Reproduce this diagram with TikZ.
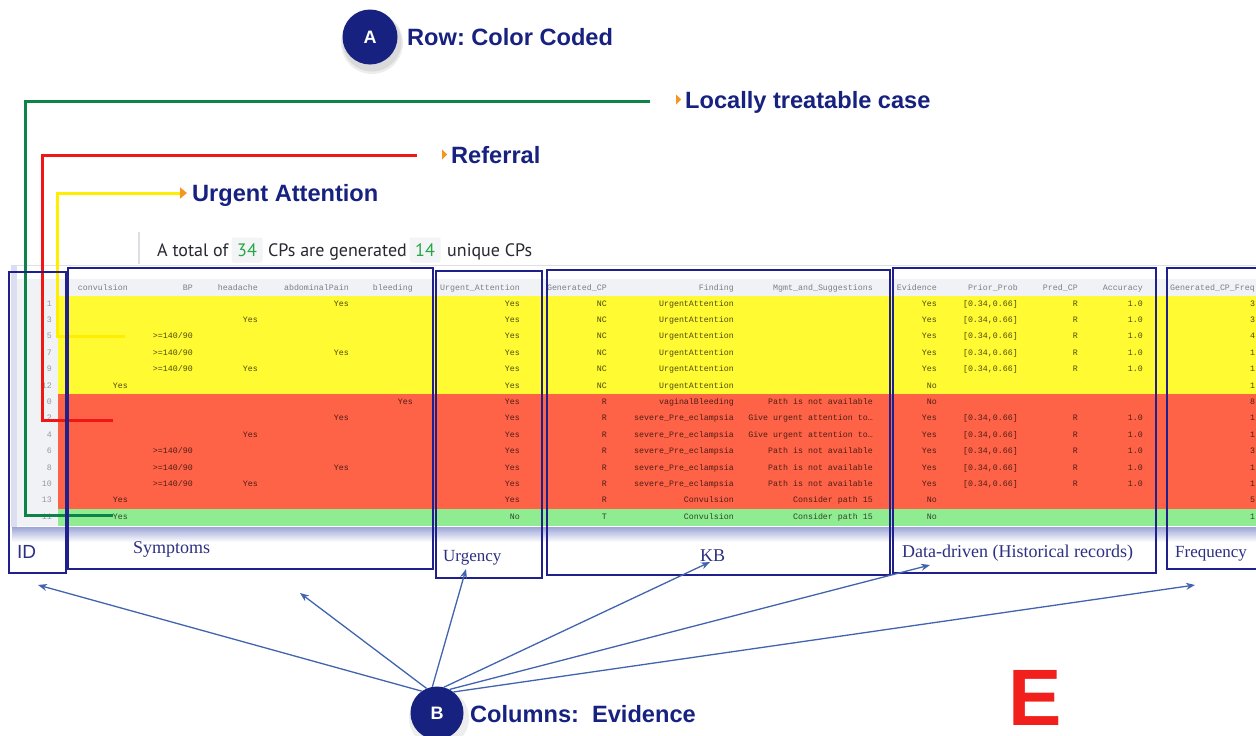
\documentclass[tikz,border=0pt]{standalone}
\usepackage{fontspec}
\setmainfont{Liberation Sans}
\newfontfamily\labelserif{Liberation Serif}
\newfontfamily\tabmono{Liberation Mono}
\newfontfamily\summaryfont{PT Sans}
\usetikzlibrary{arrows.meta,calc}
\frenchspacing

\definecolor{navy}{RGB}{22,33,128}
\definecolor{boxblue}{RGB}{32,32,140}
\definecolor{labelblue}{RGB}{45,48,130}
\definecolor{linegreen}{RGB}{12,132,72}
\definecolor{linered}{RGB}{240,22,22}
\definecolor{lineyellow}{RGB}{255,238,0}
\definecolor{tipor}{RGB}{245,150,35}
\definecolor{rowyellow}{RGB}{255,250,50}
\definecolor{rowred}{RGB}{255,99,71}
\definecolor{rowgreen}{RGB}{144,236,144}
\definecolor{idgrey}{RGB}{241,242,246}
\definecolor{headgrey}{RGB}{241,242,246}
\definecolor{headtext}{RGB}{125,125,135}
\definecolor{idtext}{RGB}{150,150,160}
\definecolor{arrowblue}{RGB}{66,100,175}
\definecolor{numgreen}{RGB}{40,165,70}
\definecolor{numbox}{RGB}{242,244,246}
\definecolor{sumtext}{RGB}{40,40,50}
\definecolor{sepgrey}{RGB}{222,223,228}
\definecolor{shadowblue}{RGB}{150,160,212}
\definecolor{bigred}{RGB}{242,32,28}

\newcommand\cellfont{\tabmono\fontsize{8.3}{10}\selectfont}

\begin{document}
\begin{tikzpicture}[x=1pt,y=-1pt,
  cell/.style={anchor=east,inner sep=0pt,font=\cellfont,text height=5.2pt,text depth=1.6pt,text=black,text opacity=0.7},
  hcell/.style={cell,text=headtext,text opacity=1},
  idcell/.style={cell,text=idtext,text opacity=1},
  colbox/.style={draw=boxblue,line width=1.6pt,anchor=north west,inner sep=0pt},
  collabel/.style={anchor=base west,inner sep=0pt,text=labelblue,font=\labelserif\fontsize{18}{20}\selectfont},
  toplabel/.style={anchor=base west,inner sep=0pt,text=navy,font=\bfseries\fontsize{23.6}{28}\selectfont},
  badge/.style={circle,fill=navy,minimum size=55pt,inner sep=0pt,text=white,font=\bfseries\fontsize{18}{20}\selectfont},
  evarrow/.style={draw=arrowblue,line width=1.3pt,-{Stealth[length=9pt,width=7pt]}},
  rowline/.style={line width=3pt},
  sumtxt/.style={anchor=base west,inner sep=0pt,text=sumtext,font=\summaryfont\fontsize{18}{20}\selectfont},
  numchip/.style={fill=numbox,rounded corners=2pt,minimum width=31pt,minimum height=25pt,inner sep=0pt,text=numgreen,font=\summaryfont\fontsize{18}{20}\selectfont}
]
\useasboundingbox (0,0) rectangle (1256,736);
\fill[white] (0,0) rectangle (1256,736);

% ---------- summary line above the table ----------
\draw[sepgrey,line width=1.2pt] (139,232) -- (139,264);
\node[sumtxt] (sumA) at (157,256) {A total of};
\node[numchip] (num34) at (247,250) {34};
\node[sumtxt] (sumB) at (268,256) {CPs are generated};
\node[numchip] (num14) at (425,250) {14};
\node[sumtxt] (sumC) at (447,256) {unique CPs};

% ---------- table card ----------
\shade[top color=shadowblue,bottom color=white] (12,526) rectangle (1256,542);
\fill[shadowblue!35] (11,265) rectangle (17,527);
\fill[white] (17,265) rectangle (1256,527);
\draw[sepgrey] (17,265) -- (1256,265);
\fill[headgrey] (17,279) rectangle (1256,296);
\fill[idgrey] (17,296) rectangle (58,525.6);
\fill[rowyellow] (58,296) rectangle (1256,394.4);
\fill[rowred] (58,394.4) rectangle (1256,509.2);
\fill[rowgreen] (58,509.2) rectangle (1256,525.6);

% header
\node[hcell] (h1) at (128,289) {convulsion};
\node[hcell] (h2) at (193,289) {BP};
\node[hcell] (h3) at (258,289) {headache};
\node[hcell] (h4) at (349,289) {abdominalPain};
\node[hcell] (h5) at (413,289) {bleeding};
\node[hcell] (h6) at (520,289) {Urgent\_Attention};
\node[hcell] (h7) at (607,289) {Generated\_CP};
\node[hcell] (h8) at (734,289) {Finding};
\node[hcell] (h9) at (873,289) {Mgmt\_and\_Suggestions};
\node[hcell] (h10) at (937,289) {Evidence};
\node[hcell] (h11) at (1018,289) {Prior\_Prob};
\node[hcell] (h12) at (1078,289) {Pred\_CP};
\node[hcell] (h13) at (1143,289) {Accuracy};
\node[hcell,anchor=west] (h14) at (1170,289) {Generated\_CP\_Freq};

% row index
\foreach \id [count=\r from 0] in {1,3,5,7,9,12,0,2,4,6,8,10,13,11}
  \node[idcell] (id\r) at (52,{304.2+16.4*\r}) {\id};

% symptoms
\foreach \r in {5,12,13}
  \node[cell] (cv\r) at (128,{304.2+16.4*\r}) {Yes};
\foreach \r in {2,3,4,9,10,11}
  \node[cell] (bp\r) at (193,{304.2+16.4*\r}) {>=140/90};
\foreach \r in {1,4,8,11}
  \node[cell] (hd\r) at (258,{304.2+16.4*\r}) {Yes};
\foreach \r in {0,3,7,10}
  \node[cell] (ab\r) at (349,{304.2+16.4*\r}) {Yes};
\node[cell] (bl6) at (413,{304.2+16.4*6}) {Yes};

% urgency
\foreach \r in {0,...,12}
  \node[cell] (ur\r) at (520,{304.2+16.4*\r}) {Yes};
\node[cell] (ur13) at (520,{304.2+16.4*13}) {No};

% knowledge base
\foreach \r/\v in {0/NC,1/NC,2/NC,3/NC,4/NC,5/NC,6/R,7/R,8/R,9/R,10/R,11/R,12/R,13/T}
  \node[cell] (gc\r) at (607,{304.2+16.4*\r}) {\v};
\foreach \r/\v in {0/UrgentAttention,1/UrgentAttention,2/UrgentAttention,3/UrgentAttention,
    4/UrgentAttention,5/UrgentAttention,6/vaginalBleeding,7/severe\_Pre\_eclampsia,
    8/severe\_Pre\_eclampsia,9/severe\_Pre\_eclampsia,10/severe\_Pre\_eclampsia,
    11/severe\_Pre\_eclampsia,12/Convulsion,13/Convulsion}
  \node[cell] (fd\r) at (734,{304.2+16.4*\r}) {\v};
\foreach \r/\v in {6/Path is not available,7/Give urgent attention to…,8/Give urgent attention to…,
    9/Path is not available,10/Path is not available,11/Path is not available,
    12/Consider path 15,13/Consider path 15}
  \node[cell] (mg\r) at (873,{304.2+16.4*\r}) {\v};

% data-driven
\foreach \r/\v in {0/Yes,1/Yes,2/Yes,3/Yes,4/Yes,5/No,6/No,7/Yes,8/Yes,9/Yes,10/Yes,11/Yes,12/No,13/No}
  \node[cell] (ev\r) at (937,{304.2+16.4*\r}) {\v};
\foreach \r in {0,1,2,3,4,7,8,9,10,11}{
  \node[cell] (pp\r) at (1018,{304.2+16.4*\r}) {[0.34,0.66]};
  \node[cell] (pc\r) at (1078,{304.2+16.4*\r}) {R};
  \node[cell] (ac\r) at (1143,{304.2+16.4*\r}) {1.0};
}

% frequency
\foreach \f [count=\r from 0] in {3,3,4,1,1,1,8,1,1,3,1,1,5,1}
  \node[cell,anchor=west] (fq\r) at (1250,{304.2+16.4*\r}) {\f};

% ---------- row colour legend ----------
\fill[black,opacity=0.07] (372,43) circle (31pt);
\fill[black,opacity=0.08] (372,42) circle (29.5pt);
\node[badge] (A) at (370,37) {A};
\node[toplabel] (rowlab) at (407,45) {Row: Color Coded};

\node[toplabel] (local) at (685,108) {Locally treatable case};
\node[toplabel] (refer) at (451,163) {Referral};
\node[toplabel] (urgent) at (192,201) {Urgent Attention};
\fill[tipor] ($(local.base west)+(-9,-13.5)$) -- ++(0,10) -- ++(5,-5) -- cycle;
\fill[tipor] ($(refer.base west)+(-9,-13.5)$) -- ++(0,10) -- ++(5,-5) -- cycle;

\coordinate (gStart) at (650,101);
\coordinate (gTurn) at (25,515);
\coordinate (gEnd) at (113,515);
\draw[rowline,linegreen] (gStart) -| (gTurn) -- (gEnd);

\coordinate (rStart) at (417,155);
\coordinate (rTurn) at (42,420);
\coordinate (rEnd) at (113,420);
\draw[rowline,linered] (rStart) -| (rTurn) -- (rEnd);

\coordinate (yEnd) at (125,336);
\coordinate (yTurn) at (57,336);
\coordinate (yTip) at (187,193);
\draw[rowline,lineyellow,-{Triangle[length=7pt,width=11pt,color=tipor]}]
  (yEnd) -- (yTurn) |- (yTip);

% ---------- column groups ----------
\node[colbox,minimum width=57pt,minimum height=301pt] (idbox) at (8,271) {};
\node[colbox,minimum width=365pt,minimum height=301pt] (symbox) at (67,267) {};
\node[colbox,minimum width=106pt,minimum height=307pt] (urgbox) at (435,270) {};
\node[colbox,minimum width=343pt,minimum height=305pt] (kbbox) at (546,269) {};
\node[colbox,minimum width=263pt,minimum height=305pt] (databox) at (892,267) {};
\node[colbox,minimum width=100pt,minimum height=301pt] (freqbox) at (1166,267) {};

\node[anchor=base west,inner sep=0pt,text=labelblue,font=\fontsize{19}{22}\selectfont] (idlab) at (17,558) {ID};
\node[collabel] (symlab) at (133,553) {Symptoms};
\node[collabel,font=\labelserif\fontsize{17}{20}\selectfont] (urglab) at (443,561) {Urgency};
\node[collabel] (kblab) at (700,561) {KB};
\node[collabel] (datalab) at (902,557) {Data-driven (Historical records)};
\node[collabel,font=\labelserif\fontsize{17}{20}\selectfont] (freqlab) at (1175,557) {Frequency};

% ---------- evidence arrows ----------
\fill[black,opacity=0.07] (439,718) circle (30pt);
\node[badge,minimum size=53pt] (B) at (437,713) {B};
\node[toplabel] (collab) at (470,722) {Columns:\ \ Evidence};

\coordinate (tID) at (38,585);
\coordinate (tSym) at (300,593);
\coordinate (tUrg) at (466,569);
\coordinate (tKB) at (710,562);
\coordinate (tData) at (930,565);
\coordinate (tFreq) at (1195,585);
\draw[evarrow] (B.125) -- (tID);
\draw[evarrow] (B.113) -- (tSym);
\draw[evarrow] (B.100) -- (tUrg);
\draw[evarrow] (B.75) -- (tKB);
\draw[evarrow] (B.62) -- (tData);
\draw[evarrow] (B.52) -- (tFreq);

% ---------- panel letter ----------
\node[anchor=base west,inner sep=0pt,text=bigred,text height=58pt,text depth=0pt,
  font=\bfseries\fontsize{80}{90}\selectfont] (panel) at (1008,725) {E};
\end{tikzpicture}
\end{document}
